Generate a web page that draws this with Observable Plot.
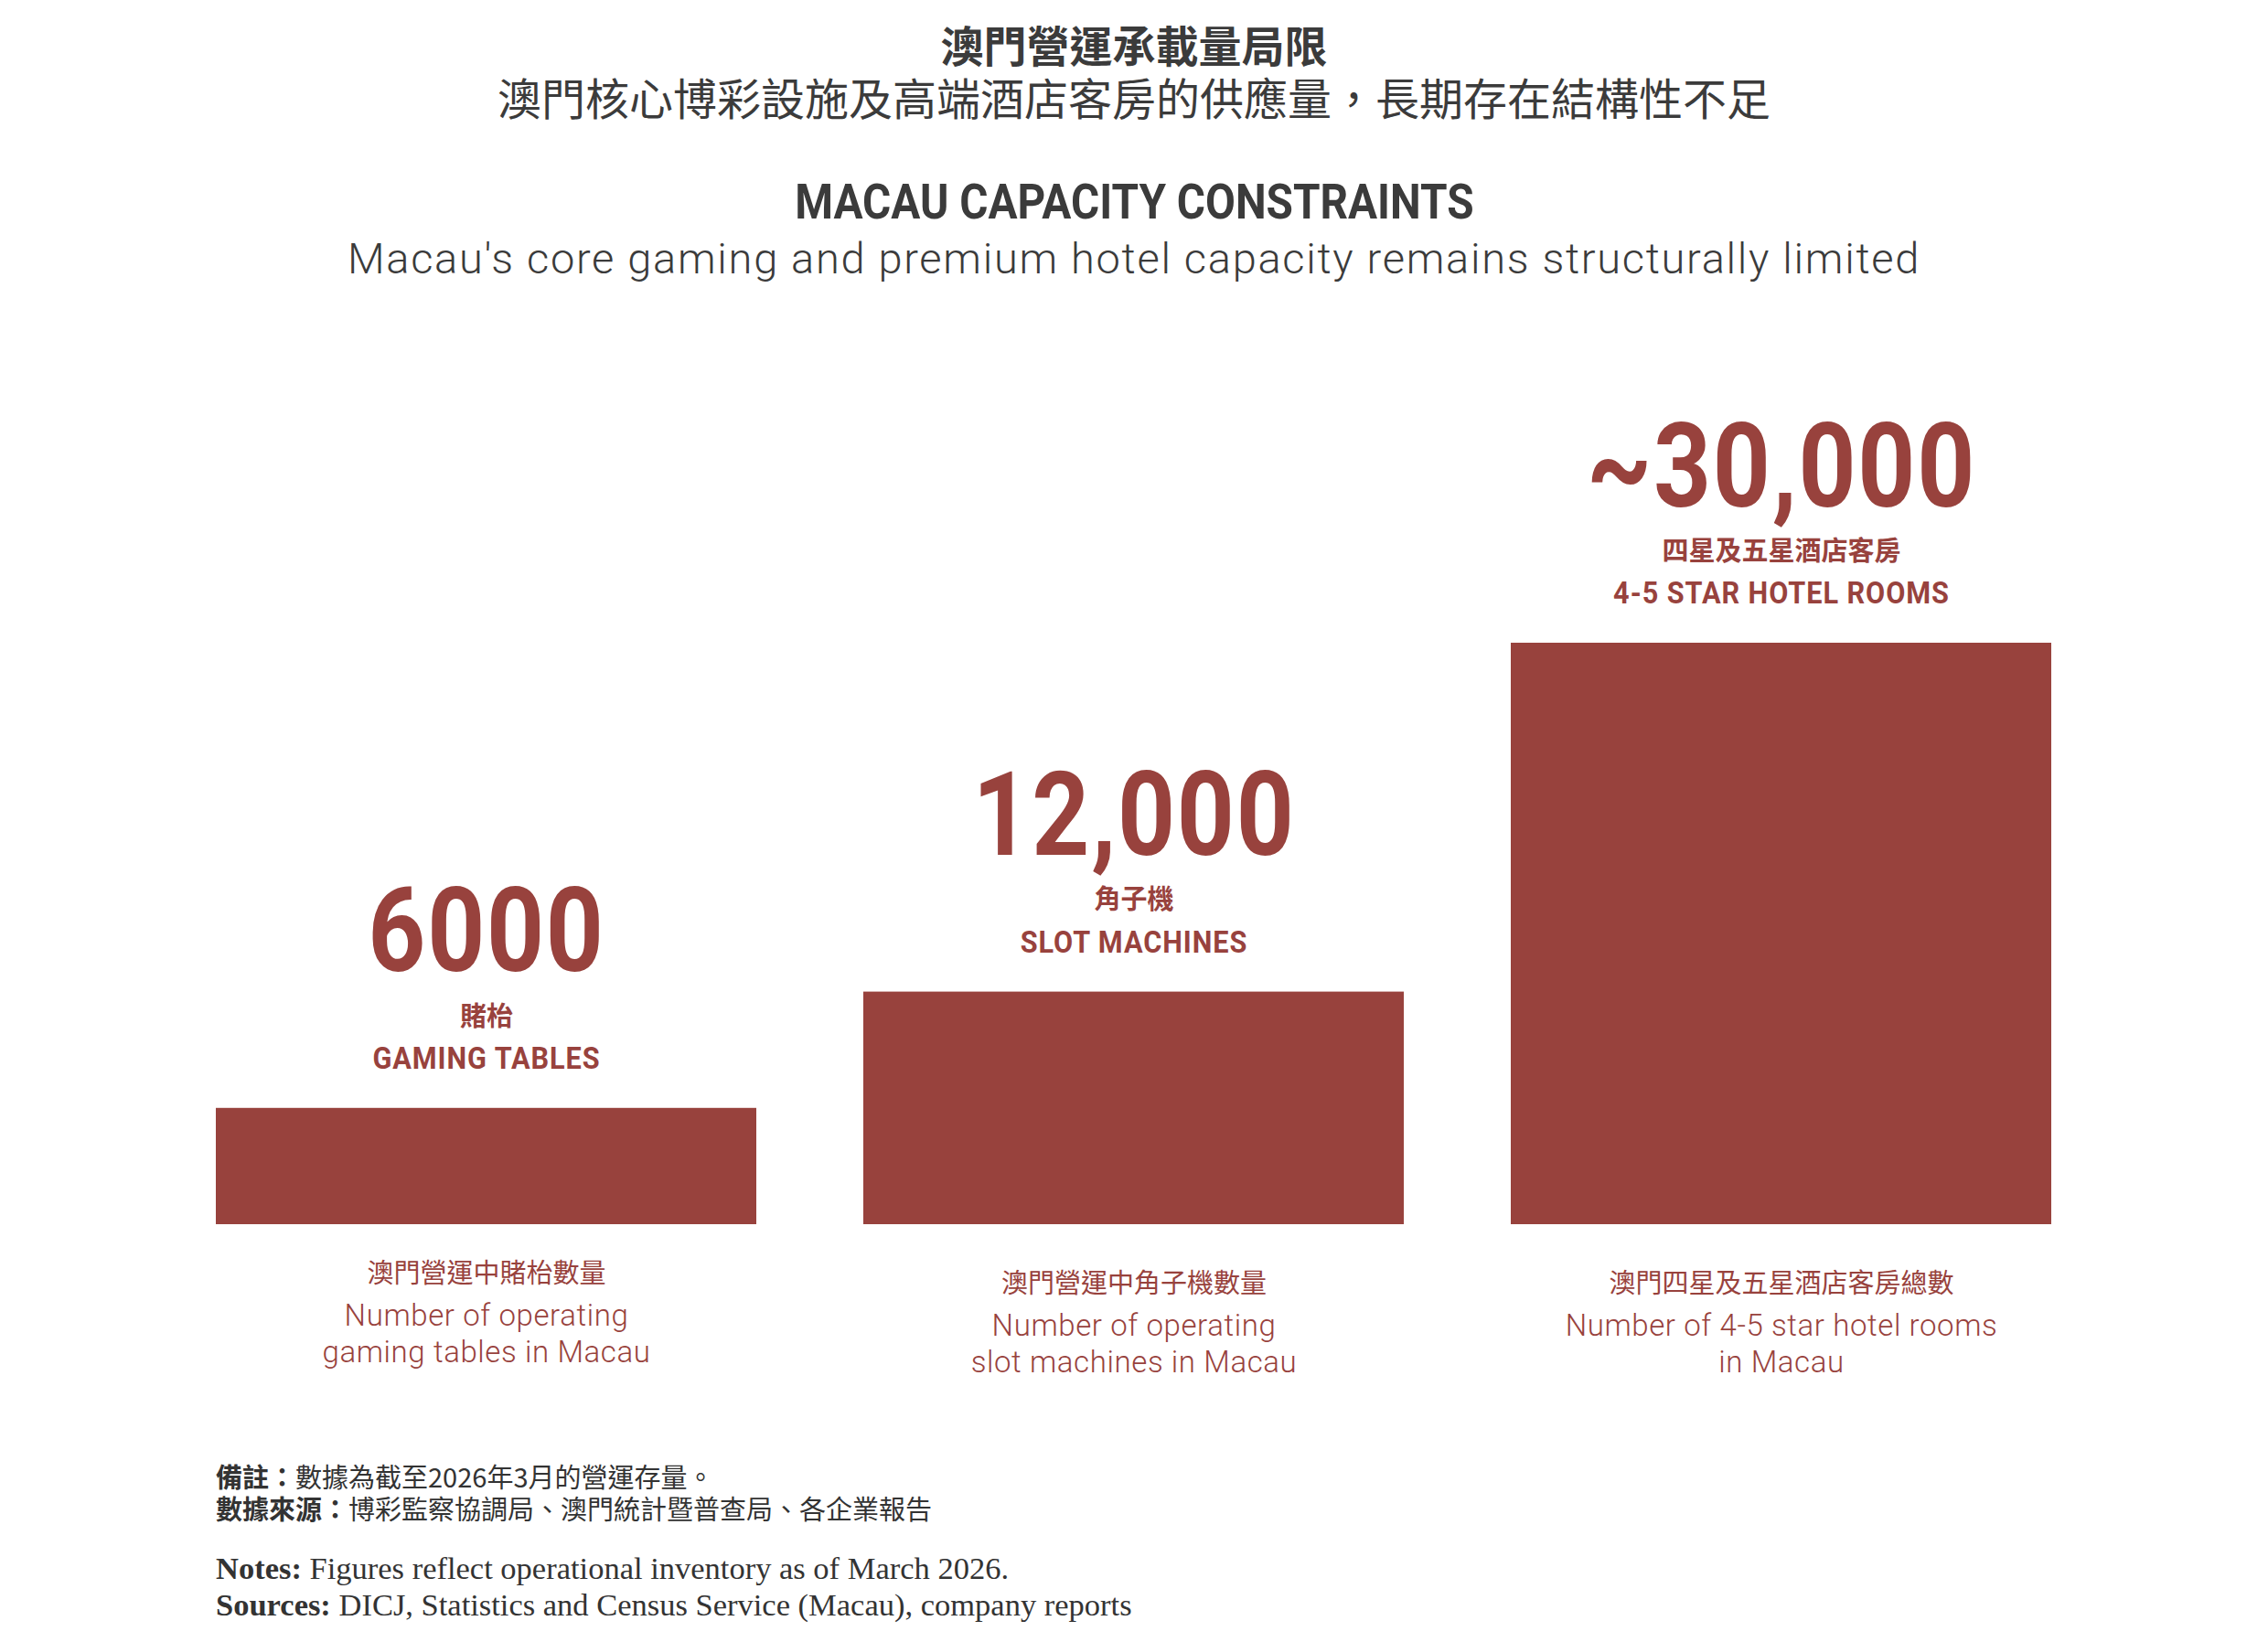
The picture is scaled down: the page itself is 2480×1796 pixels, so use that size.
<!DOCTYPE html>
<html>
<head>
<meta charset="utf-8">
<script src="https://cdn.jsdelivr.net/npm/d3@7"></script>
<script src="https://cdn.jsdelivr.net/npm/@observablehq/plot@0.6"></script>
<style>
  html, body { margin: 0; padding: 0; background: #fff; }
  #page { position: relative; width: 2480px; height: 1796px; overflow: hidden; background: #fff; }
  .line { position: absolute; left: 0; width: 2480px; text-align: center; white-space: nowrap; color: #3b3b3b; }
  .line span { display: inline-block; }
  .zh { font-family: "Noto Sans CJK TC", "Noto Sans CJK SC", sans-serif; }
  .foot { position: absolute; left: 236px; white-space: nowrap; color: #333; }
  #chart { position: absolute; left: 0; top: 340px; }
</style>
</head>
<body>
<div id="page">
  <div class="line zh" style="top:24px;font-size:47px;line-height:47px;font-weight:700;">澳門營運承載量局限</div>
  <div class="line zh" style="top:81px;font-size:48px;line-height:48px;font-weight:400;">澳門核心博彩設施及高端酒店客房的供應量，長期存在結構性不足</div>
  <div class="line" style="top:195px;font-family:Roboto,sans-serif;font-size:53px;line-height:53px;font-weight:700;"><span style="transform:scaleX(0.9);">MACAU CAPACITY CONSTRAINTS</span></div>
  <div class="line" style="top:259px;font-family:Roboto,'Open Sans',sans-serif;font-size:47px;line-height:47px;font-weight:300;letter-spacing:1.7px;">Macau's core gaming and premium hotel capacity remains structurally limited</div>
  <div id="chart"></div>
  <div class="foot zh" style="top:1600px;font-size:29px;line-height:29px;"><b>備註：</b>數據為截至2026年3月的營運存量。</div>
  <div class="foot zh" style="top:1635px;font-size:29px;line-height:29px;"><b>數據來源：</b>博彩監察協調局、澳門統計暨普查局、各企業報告</div>
  <div class="foot" style="top:1698px;font-family:'Liberation Serif','DejaVu Serif',serif;font-size:34.5px;line-height:34.5px;"><b>Notes:</b> Figures reflect operational inventory as of March 2026.</div>
  <div class="foot" style="top:1738px;font-family:'Liberation Serif','DejaVu Serif',serif;font-size:34.5px;line-height:34.5px;"><b>Sources:</b> DICJ, Statistics and Census Service (Macau), company reports</div>
</div>
<script>
const categories = ["GAMING TABLES", "SLOT MACHINES", "4-5 STAR HOTEL ROOMS"];
const categoriesZh = ["賭枱", "角子機", "四星及五星酒店客房"];
const values = [6000, 12000, 30000];
const valueLabels = ["6000", "12,000", "~30,000"];
const descZh = ["澳門營運中賭枱數量", "澳門營運中角子機數量", "澳門四星及五星酒店客房總數"];
const descEn = ["Number of operating\ngaming tables in Macau", "Number of operating\nslot machines in Macau", "Number of 4-5 star hotel rooms\nin Macau"];

const data = categories.map((c, i) => ({
  cat: c, zh: categoriesZh[i], value: values[i], label: valueLabels[i], descZh: descZh[i], descEn: descEn[i]
}));

const RED = "#98423d";
const BOLD = "Roboto, sans-serif";
const CJK = "'Noto Sans CJK TC', 'Noto Sans CJK SC', sans-serif";
const LIGHT = "Roboto, 'Open Sans', sans-serif";

const first = (d, i) => i === 0;
const rest = (d, i) => i !== 0;

const chart = Plot.plot({
  width: 2480,
  height: 1220,
  marginLeft: 236,
  marginRight: 236,
  marginTop: 363,
  marginBottom: 221,
  x: {type: "band", domain: categories, paddingInner: 0.165, paddingOuter: 0, axis: null},
  y: {domain: [0, 30000], axis: null},
  marks: [
    Plot.barY(data, {x: "cat", y: "value", fill: RED}),
    Plot.text(data, {x: "cat", y: "value", text: "label", dy: -150, lineAnchor: "bottom",
      fill: RED, fontFamily: BOLD, fontWeight: 700, fontSize: 128}),
    Plot.text(data, {x: "cat", y: "value", text: "zh", dy: -100, lineAnchor: "middle",
      fill: RED, fontFamily: CJK, fontWeight: 700, fontSize: 29}),
    Plot.text(data, {x: "cat", y: "value", text: "cat", dy: -54, lineAnchor: "middle",
      fill: RED, fontFamily: BOLD, fontWeight: 700, fontSize: 33}),
    Plot.text(data, {filter: first, x: "cat", frameAnchor: "bottom", text: "descZh", dy: 54, lineAnchor: "middle",
      fill: RED, fontFamily: CJK, fontWeight: 400, fontSize: 29}),
    Plot.text(data, {filter: rest, x: "cat", frameAnchor: "bottom", text: "descZh", dy: 65, lineAnchor: "middle",
      fill: RED, fontFamily: CJK, fontWeight: 400, fontSize: 29}),
    Plot.text(data, {filter: first, x: "cat", frameAnchor: "bottom", text: "descEn", dy: 81, lineAnchor: "top",
      lineHeight: 1.24, fill: RED, fontFamily: LIGHT, fontWeight: 300, fontSize: 33}),
    Plot.text(data, {filter: rest, x: "cat", frameAnchor: "bottom", text: "descEn", dy: 92, lineAnchor: "top",
      lineHeight: 1.24, fill: RED, fontFamily: LIGHT, fontWeight: 300, fontSize: 33})
  ]
});

// horizontal condensing (style only): keep Plot's own position and line offsets
function squeeze(el, s) {
  const tr = el.getAttribute("transform") || "";
  el.setAttribute("transform", `${tr} scale(${s},1)`);
}

d3.select(chart).selectAll("text").each(function() {
  const t = this.textContent;
  if (valueLabels.includes(t)) { squeeze(this, 0.86); this.setAttribute("letter-spacing", "2px"); }
  else if (categories.includes(t)) { squeeze(this, 0.93); this.setAttribute("letter-spacing", "1px"); }
  else if (descEn.some(s => s.replace("\n", "") === t)) { this.setAttribute("letter-spacing", "0.6px"); }
});

document.getElementById("chart").appendChild(chart);
</script>
</body>
</html>
